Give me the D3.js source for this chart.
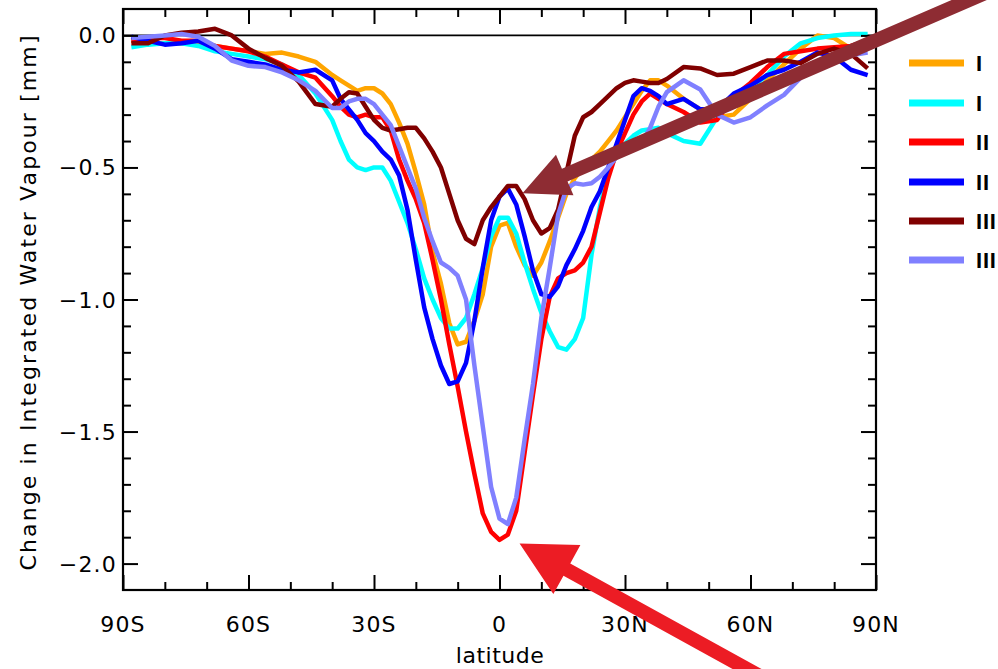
<!DOCTYPE html>
<html><head><meta charset="utf-8">
<script src="https://cdn.jsdelivr.net/npm/d3@7"></script>
<style>html,body{margin:0;padding:0;background:#fff;}svg{display:block;}</style>
</head><body>
<svg id="c" width="998" height="669"></svg>
<script>
// ---------- data ----------
const lats = [-88,-84,-80,-76,-72,-68,-64,-60,-56,-52,-48,-44,-40,-38,-36,-34,-32,-30,-28,-26,-24,-22,-20,-18,-16,-14,-12,-10,-8,-6,-4,-2,0,2,4,6,8,10,12,14,16,18,20,22,24,26,28,30,32,34,36,38,40,44,48,52,56,60,64,68,72,76,80,84,88];

const seriesNames = ["I","I","II","II","III","III"];
const seriesColors = ["#FFA500","#00FFFF","#FF0000","#0000FF","#800000","#8080FF"];

const orange = [-0.02,-0.03,-0.03,-0.03,-0.03,-0.04,-0.05,-0.06,-0.07,-0.065,-0.08,-0.10,-0.15,-0.17,-0.19,-0.21,-0.20,-0.20,-0.22,-0.26,-0.33,-0.41,-0.52,-0.64,-0.82,-0.94,-1.09,-1.17,-1.16,-1.08,-0.98,-0.80,-0.72,-0.71,-0.80,-0.87,-0.91,-0.86,-0.78,-0.69,-0.60,-0.54,-0.50,-0.47,-0.44,-0.40,-0.36,-0.31,-0.26,-0.21,-0.17,-0.17,-0.19,-0.24,-0.28,-0.31,-0.30,-0.24,-0.17,-0.11,-0.05,0.0,-0.01,-0.05,-0.04];

const cyan = [-0.045,-0.035,-0.03,-0.03,-0.04,-0.06,-0.07,-0.08,-0.09,-0.11,-0.15,-0.22,-0.32,-0.40,-0.47,-0.50,-0.51,-0.50,-0.50,-0.55,-0.63,-0.71,-0.81,-0.92,-1.00,-1.07,-1.11,-1.11,-1.07,-0.98,-0.88,-0.76,-0.69,-0.69,-0.75,-0.86,-0.96,-1.05,-1.12,-1.18,-1.19,-1.15,-1.07,-0.83,-0.65,-0.52,-0.45,-0.41,-0.38,-0.36,-0.355,-0.35,-0.37,-0.40,-0.41,-0.31,-0.245,-0.20,-0.15,-0.08,-0.03,-0.01,0.0,0.005,0.005];

const red = [-0.02,-0.01,-0.01,-0.02,-0.02,-0.04,-0.05,-0.06,-0.08,-0.11,-0.14,-0.16,-0.23,-0.27,-0.30,-0.31,-0.30,-0.31,-0.31,-0.36,-0.47,-0.55,-0.62,-0.71,-0.85,-1.00,-1.17,-1.33,-1.50,-1.66,-1.81,-1.88,-1.91,-1.89,-1.80,-1.58,-1.36,-1.15,-0.99,-0.92,-0.90,-0.89,-0.86,-0.80,-0.67,-0.54,-0.44,-0.37,-0.30,-0.25,-0.22,-0.24,-0.26,-0.29,-0.33,-0.32,-0.23,-0.18,-0.12,-0.07,-0.06,-0.05,-0.045,-0.04,-0.02];

const blue = [-0.005,-0.02,-0.035,-0.03,-0.02,-0.05,-0.09,-0.10,-0.11,-0.13,-0.14,-0.13,-0.17,-0.24,-0.28,-0.32,-0.37,-0.40,-0.44,-0.47,-0.53,-0.66,-0.85,-1.03,-1.15,-1.25,-1.32,-1.31,-1.24,-1.08,-0.88,-0.70,-0.61,-0.58,-0.64,-0.76,-0.89,-0.98,-0.99,-0.95,-0.87,-0.81,-0.74,-0.65,-0.59,-0.50,-0.41,-0.32,-0.23,-0.20,-0.21,-0.23,-0.26,-0.24,-0.28,-0.28,-0.22,-0.19,-0.15,-0.13,-0.10,-0.065,-0.08,-0.13,-0.15];

const darkred = [-0.03,-0.03,0.0,0.01,0.015,0.025,0.0,-0.05,-0.085,-0.115,-0.175,-0.26,-0.27,-0.24,-0.215,-0.22,-0.27,-0.32,-0.35,-0.36,-0.355,-0.35,-0.35,-0.39,-0.44,-0.50,-0.60,-0.70,-0.77,-0.79,-0.70,-0.65,-0.61,-0.57,-0.57,-0.62,-0.70,-0.75,-0.73,-0.66,-0.52,-0.38,-0.31,-0.29,-0.26,-0.23,-0.20,-0.18,-0.17,-0.175,-0.18,-0.18,-0.165,-0.12,-0.125,-0.15,-0.145,-0.12,-0.095,-0.095,-0.105,-0.07,-0.05,-0.07,-0.125];

const purple = [-0.01,-0.005,0.0,0.005,-0.005,-0.04,-0.095,-0.115,-0.12,-0.14,-0.17,-0.21,-0.275,-0.275,-0.25,-0.24,-0.24,-0.26,-0.30,-0.34,-0.42,-0.50,-0.58,-0.69,-0.78,-0.86,-0.88,-0.91,-1.00,-1.25,-1.48,-1.71,-1.83,-1.85,-1.75,-1.53,-1.32,-1.07,-0.88,-0.68,-0.58,-0.56,-0.565,-0.56,-0.535,-0.50,-0.46,-0.43,-0.415,-0.41,-0.35,-0.27,-0.215,-0.17,-0.205,-0.30,-0.33,-0.31,-0.265,-0.225,-0.16,-0.10,-0.075,-0.075,-0.065];

const allSeries = [orange, cyan, red, blue, darkred, purple];

const xMajorTicks = [-90,-60,-30,0,30,60,90];
const xTickLabels = ["90S","60S","30S","0","30N","60N","90N"];
const xMinorTicks = d3.range(-80, 90, 10).filter(d => d % 30 !== 0);
const yMajorTicks = [0,-0.5,-1.0,-1.5,-2.0];
const yTickLabels = ["0.0","\u22120.5","\u22121.0","\u22121.5","\u22122.0"];
const yMinorTicks = [-0.1,-0.2,-0.3,-0.4,-0.6,-0.7,-0.8,-0.9,-1.1,-1.2,-1.3,-1.4,-1.6,-1.7,-1.8,-1.9];

// annotation arrows (data coordinates: [lat, value])
const arrowTips  = [[5.5,-0.598],[4.8,-1.924]];
const arrowTails = [[121.9,0.20],[72.9,-2.519]];
const arrowColors = ["#8E2C33","#EC1C24"];

// ---------- drawing ----------
const svg = d3.select("#c");
const L=123, R=876, T=9, B=590;
const x = d3.scaleLinear().domain([-90,90]).range([L,R]);
const y = d3.scaleLinear().domain([-2.1,0.1]).range([B,T]);
const font = "'DejaVu Sans', sans-serif";

svg.append("defs").append("clipPath").attr("id","clip")
  .append("rect").attr("x",L).attr("y",T).attr("width",R-L).attr("height",B-T);

// zero line
svg.append("line").attr("x1",L).attr("x2",R).attr("y1",y(0)).attr("y2",y(0))
  .attr("stroke","#000").attr("stroke-width",1.6);

// series
const line = d3.line().x((d,i)=>x(lats[i])).y(d=>y(d));
const g = svg.append("g").attr("clip-path","url(#clip)");
allSeries.forEach((s,k)=>{
  g.append("path").datum(s).attr("d",line).attr("fill","none")
   .attr("stroke",seriesColors[k]).attr("stroke-width",4.5)
   .attr("stroke-linejoin","round");
});

// axes (inward ticks on all four sides)
function addAxis(gen, tr){
  const a = svg.append("g").attr("transform",tr).call(gen);
  a.select(".domain").remove();
  a.selectAll("line").attr("stroke","#000").attr("stroke-width",2);
  return a;
}
addAxis(d3.axisBottom(x).tickValues(xMajorTicks).tickSize(-15).tickFormat(""), `translate(0,${B})`);
addAxis(d3.axisBottom(x).tickValues(xMinorTicks).tickSize(-8).tickFormat(""), `translate(0,${B})`);
addAxis(d3.axisTop(x).tickValues(xMajorTicks).tickSize(-15).tickFormat(""), `translate(0,${T})`);
addAxis(d3.axisTop(x).tickValues(xMinorTicks).tickSize(-8).tickFormat(""), `translate(0,${T})`);
addAxis(d3.axisLeft(y).tickValues(yMajorTicks).tickSize(-15).tickFormat(""), `translate(${L},0)`);
addAxis(d3.axisLeft(y).tickValues(yMinorTicks).tickSize(-8).tickFormat(""), `translate(${L},0)`);
addAxis(d3.axisRight(y).tickValues(yMajorTicks).tickSize(-15).tickFormat(""), `translate(${R},0)`);
addAxis(d3.axisRight(y).tickValues(yMinorTicks).tickSize(-8).tickFormat(""), `translate(${R},0)`);

// frame
svg.append("rect").attr("x",L).attr("y",T).attr("width",R-L).attr("height",B-T)
  .attr("fill","none").attr("stroke","#000").attr("stroke-width",2.2);

// tick labels
svg.append("g").selectAll("text").data(xMajorTicks).join("text")
  .attr("x",d=>x(d)).attr("y",632).attr("text-anchor","middle")
  .attr("font-family",font).attr("font-size",22).attr("letter-spacing",1.2)
  .text((d,i)=>xTickLabels[i]);
svg.append("g").selectAll("text").data(yMajorTicks).join("text")
  .attr("x",117).attr("y",d=>y(d)+8).attr("text-anchor","end")
  .attr("font-family",font).attr("font-size",22).attr("letter-spacing",1.2)
  .text((d,i)=>yTickLabels[i]);

// axis titles
svg.append("text").attr("x",500).attr("y",663).attr("text-anchor","middle")
  .attr("font-family",font).attr("font-size",22).attr("letter-spacing",0.5)
  .text("latitude");
svg.append("text").attr("transform","translate(36,303) rotate(-90)")
  .attr("text-anchor","middle").attr("font-family",font).attr("font-size",22)
  .attr("textLength",535).attr("lengthAdjust","spacing")
  .text("Change in Integrated Water Vapour [mm]");

// legend
const legY = [63,103,142,182,221,260];
const lg = svg.append("g");
seriesNames.forEach((n,k)=>{
  lg.append("line").attr("x1",909).attr("x2",964).attr("y1",legY[k]).attr("y2",legY[k])
    .attr("stroke",seriesColors[k]).attr("stroke-width",7);
  lg.append("text").attr("x",976).attr("y",legY[k]+8).attr("font-family","'Liberation Sans', sans-serif")
    .attr("font-size",22).attr("font-weight","bold").attr("letter-spacing",0.8).text(n);
});

// arrows
function arrowPoly(tip, tail, w, hl, hw){
  const dx=tip[0]-tail[0], dy=tip[1]-tail[1], len=Math.hypot(dx,dy);
  const ux=dx/len, uy=dy/len, nx=-uy, ny=ux;
  const bx=tip[0]-ux*hl, by=tip[1]-uy*hl;
  return [
    [tail[0]+nx*w/2, tail[1]+ny*w/2],
    [bx+nx*w/2, by+ny*w/2],
    [bx+nx*hw/2, by+ny*hw/2],
    tip,
    [bx-nx*hw/2, by-ny*hw/2],
    [bx-nx*w/2, by-ny*w/2],
    [tail[0]-nx*w/2, tail[1]-ny*w/2]
  ];
}
const arrowSpecs = [[14,46,44],[14,54,56]];
arrowTips.forEach((t,k)=>{
  const tip=[x(t[0]),y(t[1])], tail=[x(arrowTails[k][0]),y(arrowTails[k][1])];
  const [w,hl,hw]=arrowSpecs[k];
  svg.append("path").attr("d", d3.line()(arrowPoly(tip,tail,w,hl,hw))+"Z")
    .attr("fill",arrowColors[k]);
});
</script>
</body></html>
